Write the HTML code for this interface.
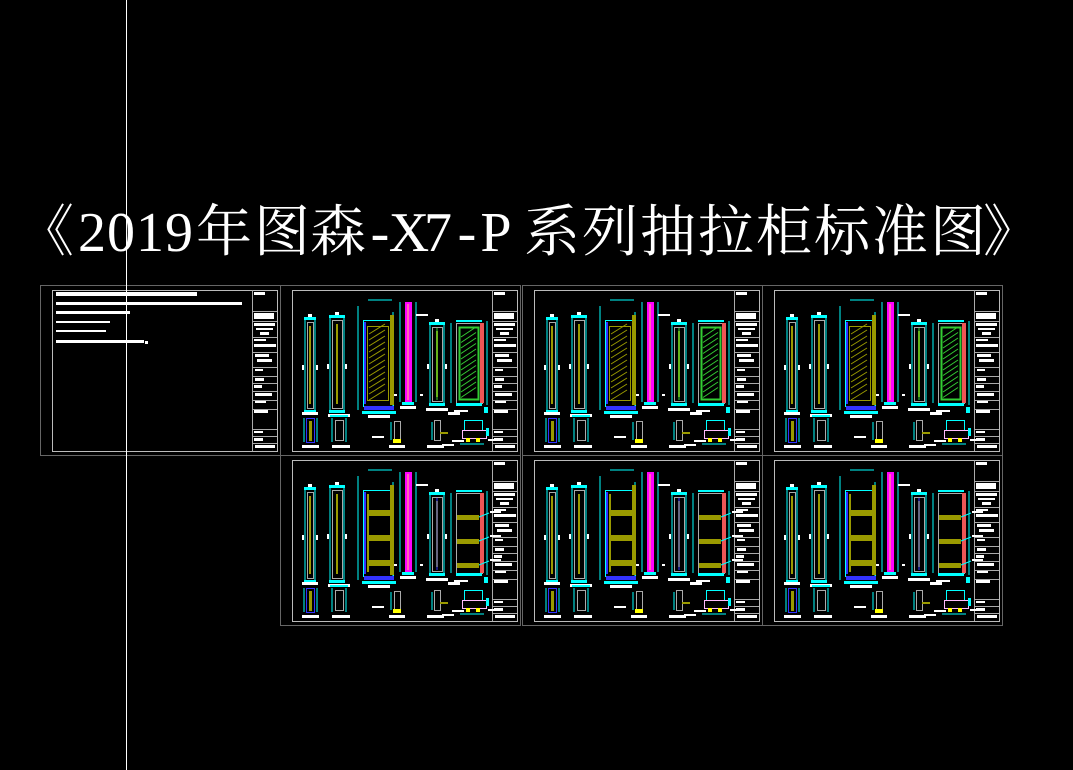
<!DOCTYPE html>
<html><head><meta charset="utf-8"><style>
html,body{margin:0;padding:0;background:#000;width:1073px;height:770px;overflow:hidden}
svg{display:block}
</style></head><body>
<svg id="s" width="1073" height="770" viewBox="0 0 1073 770" xmlns="http://www.w3.org/2000/svg">
<rect width="1073" height="770" fill="#000"/>
<g id="g"></g>
<line x1="126.5" y1="0" x2="126.5" y2="770" stroke="#fff" stroke-width="1"/>
<g font-size="56" fill="#fff">
<text x="18 196 254 310 524 582 640 698 756 814 872 930 983" y="251" font-family="'Noto Serif CJK SC','Liberation Serif',serif">《年图森系列抽拉柜标准图》</text>
<text x="92 121 150 179 380 409 438 467 496" y="251" text-anchor="middle" font-family="'Liberation Serif',serif">2019-X7-P</text>
</g>
</svg>
<script>
var out=[];
function R(x,y,w,h,f){out.push('<rect x="'+x+'" y="'+y+'" width="'+w+'" height="'+h+'" fill="'+f+'"/>');}
function S(x,y,w,h,c,sw){out.push('<rect x="'+(x+.5)+'" y="'+(y+.5)+'" width="'+w+'" height="'+h+'" fill="none" stroke="'+c+'" stroke-width="'+(sw||1)+'"/>');}
function L(x1,y1,x2,y2,c,sw){out.push('<line x1="'+x1+'" y1="'+y1+'" x2="'+x2+'" y2="'+y2+'" stroke="'+c+'" stroke-width="'+(sw||1)+'"/>');}
var C='#0ff',W='#fff',G='#aaa',Y='#9a9a00',P='#f0f',B='#33f',GR='#3c3';
function post(x,y,w,h,ox,oy){
  L(ox+x,oy+y,ox+x,oy+y+h,C);L(ox+x+w,oy+y,ox+x+w,oy+y+h,C);
  S(ox+x+2,oy+y+2,w-4,h-4,G);
  R(ox+x+w/2-1,oy+y+6,2,h-12,Y);
  R(ox+x-1,oy+y-3,w+2,3,C);R(ox+x-1,oy+y+h,w+2,3,C);
  R(ox+x-3,oy+y+h/2,2,5,W);R(ox+x+w+1,oy+y+h/2,2,5,W);
  R(ox+x+w/2-2,oy+y-6,4,3,W);
}
function titleBlock(ox,oy){
  var x=ox+200;L(x+.5,oy,x+.5,oy+161,G);
  [21,31,47,62,77,86,93,101,110,119,139,146,153].forEach(function(v){L(x,oy+v+.5,ox+225,oy+v+.5,G);});
  R(x+2,oy+2,11,3,W);R(x+2,oy+23,20,6,W);R(x+2,oy+33,21,3,W);R(x+4,oy+38,17,2,W);R(x+8,oy+42,9,3,W);
  R(x+2,oy+49,12,2,W);R(x+2,oy+54,22,3,W);R(x+3,oy+64,14,3,W);R(x+5,oy+69,15,3,W);
  R(x+3,oy+79,8,2,W);R(x+3,oy+88,9,3,W);R(x+2,oy+95,8,3,W);R(x+3,oy+103,17,3,W);R(x+3,oy+111,11,2,W);R(x+2,oy+120,14,3,W);
  R(x+2,oy+141,9,2,W);R(x+2,oy+148,9,3,W);R(x+3,oy+155,20,3,W);
}
function sheet(OX,OY,type){
  S(OX,OY,240,170,'#666');
  var ox=OX+12,oy=OY+5;
  S(ox,oy,225,161,'#bbb');
  titleBlock(ox,oy);
  post(13,30,10,90,ox,oy);R(ox+10,oy+122,16,3,W);
  post(38,28,14,92,ox,oy);R(ox+36,oy+124,22,3,W);
  var x0=ox+66,y0=oy+30;
  L(x0,y0-14,x0,y0+90,C);L(ox+101,y0-8,ox+101,y0+90,C);L(x0+10,oy+10,ox+100,oy+10,C);
  S(ox+71,y0,30,86,C);L(ox+73,y0+2,ox+73,y0+84,B,2);
  R(ox+98,y0-5,4,90,Y);
  if(type==0){
    S(ox+75,y0+6,21,74,Y);
    for(var k=0;k<12;k++){var yy=y0+14+k*6;L(ox+77,yy,ox+93,yy-10,Y);}
  }else{
    L(ox+76,y0+4,ox+76,y0+82,Y,2);
    [20,45,70].forEach(function(v){R(ox+75,y0+v,23,6,Y);});
  }
  R(ox+72,y0+86,30,4,B);R(ox+70,y0+91,34,3,C);R(ox+76,y0+95,22,3,W);
  L(ox+108,oy+12,ox+108,oy+112,C);L(ox+124,oy+12,ox+124,oy+112,C);
  R(ox+113,oy+12,7,100,P);L(ox+116,oy+14,ox+116,oy+110,'#fc6');
  R(ox+110,oy+112,12,3,C);R(ox+108,oy+116,16,3,W);R(ox+124,oy+24,12,2,W);
  R(ox+102,oy+104,3,2,W);R(ox+128,oy+104,3,2,W);
  post(138,35,14,78,ox,oy);L(ox+145,oy+38,ox+145,oy+110,type?B:GR);R(ox+134,oy+118,22,3,W);
  var rx=ox+162,ry=oy+33;
  L(rx-3,ry,rx-3,ry+80,C);L(rx+33,ry-2,rx+33,ry+82,C);
  S(rx+2,ry,26,80,G);R(rx+26,ry,4,80,'#e55');R(rx+2,ry-3,26,2,C);
  if(type==0){S(rx+5,ry+4,19,72,GR,2);for(var k=0;k<12;k++){var yy=ry+14+k*5.5;L(rx+7,yy,rx+22,yy-10,GR);}}
  else{[22,46,70].forEach(function(v){R(rx+3,ry+v,22,5,Y);L(rx+25,ry+v+2,rx+35,ry+v-2,C);R(rx+36,ry+v-4,11,2,W);});}
  R(rx+2,ry+80,26,3,C);R(rx,ry+87,14,2,W);R(rx+30,ry+84,4,6,C);
  var by=oy+128;
  L(ox+12,by,ox+12,by+24,C);L(ox+25,by,ox+25,by+24,C);S(ox+14,by,8,24,B);R(ox+17,by+3,3,20,Y);R(ox+10,by+27,17,3,W);
  L(ox+40,by,ox+40,by+24,C);L(ox+54,by,ox+54,by+24,C);S(ox+43,by+2,8,20,G);R(ox+40,by+27,18,3,W);R(ox+38,by-3,18,2,C);
  L(ox+99,by+4,ox+99,by+22,C);S(ox+102,by+3,6,18,G);R(ox+101,by+21,8,4,'#ff0');R(ox+97,by+27,16,3,W);R(ox+80,by+18,12,2,W);
  L(ox+140,by+4,ox+140,by+22,C);S(ox+142,by+2,6,20,G);R(ox+148,by+14,8,2,Y);R(ox+135,by+27,17,3,W);R(ox+150,by+26,12,2,W);
  var ax=ox+168;
  S(ax+4,by+2,18,10,C);S(ax+2,by+12,24,8,'#fbf');R(ax+6,by+20,4,4,'#ff0');R(ax+16,by+20,4,4,'#ff0');
  L(ax,by+26,ax+24,by+26,C);R(ax-12,by-6,12,3,W);R(ax+28,by+21,10,2,W);R(ax-8,by+22,12,2,W);R(ax+26,by+10,3,8,C);
}
S(40,285,240,170,'#666');S(52,290,225,161,'#bbb');titleBlock(52,290);
R(56,292,141,4,W);R(56,302,186,3,W);R(56,311,74,3,W);R(56,321,54,2,W);R(56,330,50,2,W);R(56,340,88,3,W);R(145,341,3,3,W);
sheet(280,285,0);sheet(522,285,0);sheet(762,285,0);
sheet(280,455,1);sheet(522,455,1);sheet(762,455,1);
document.getElementById('g').innerHTML=out.join('');
</script>
</body></html>
